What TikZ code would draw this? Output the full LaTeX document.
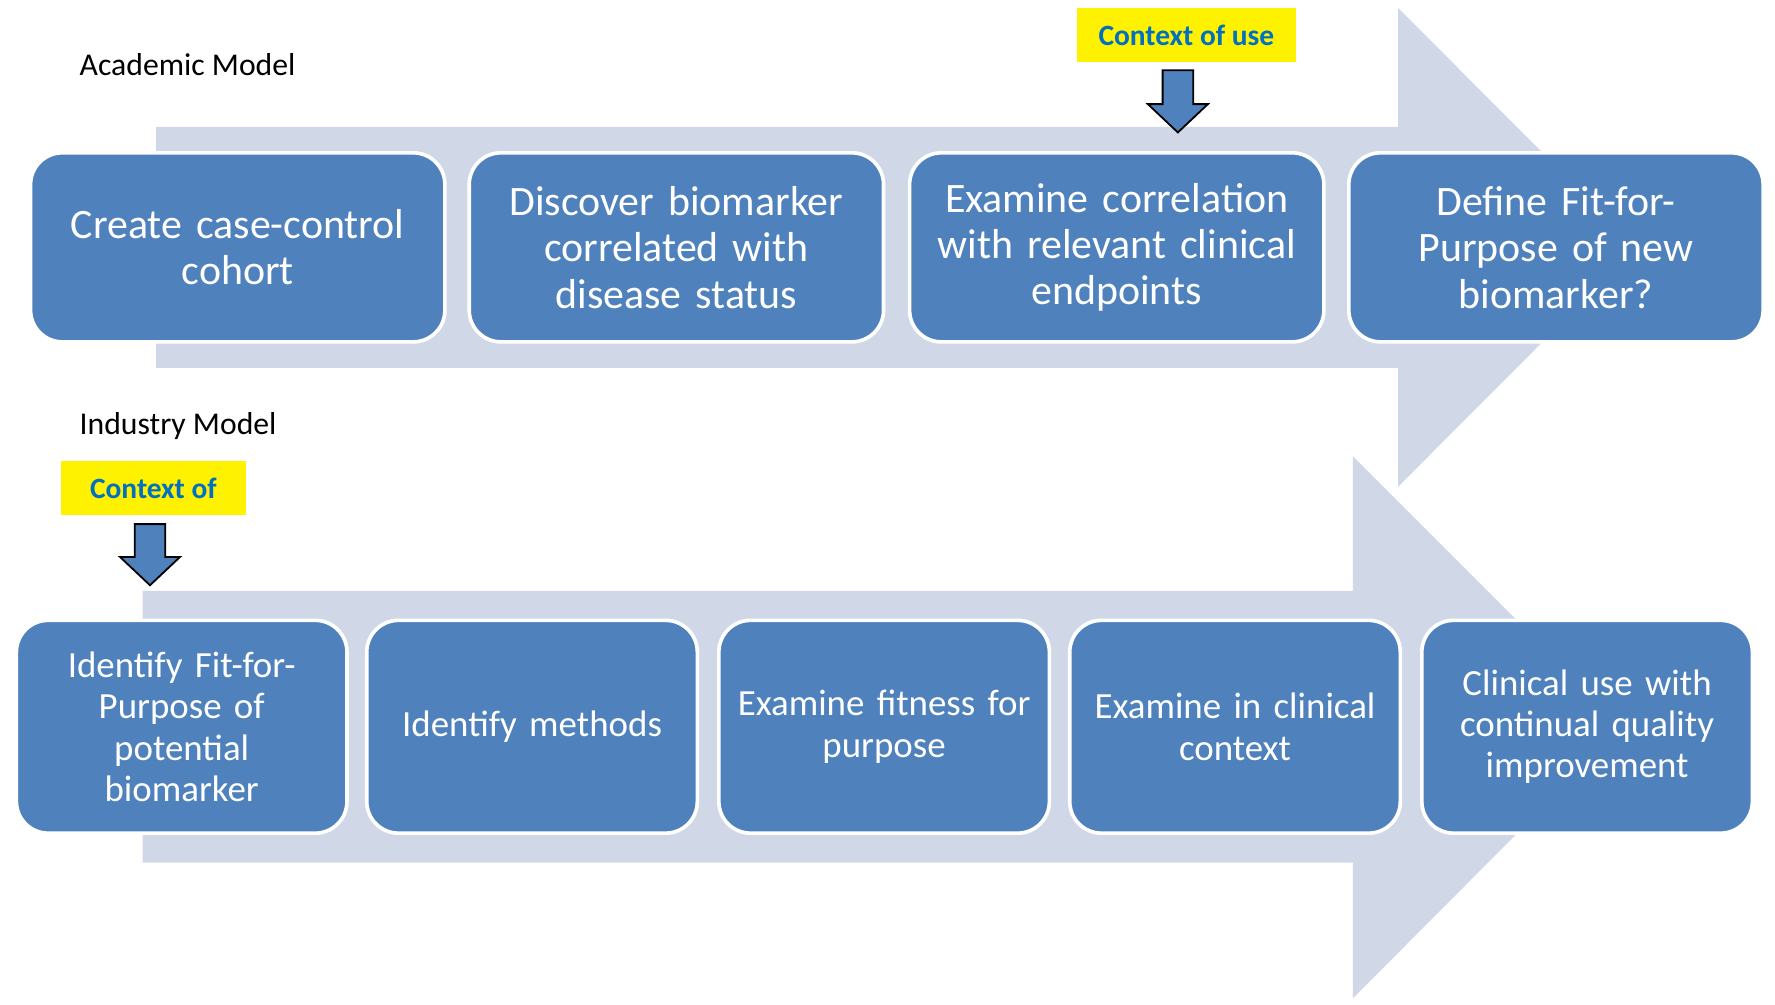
\documentclass[tikz,border=0pt]{standalone}
\usepackage{fontspec}
\setmainfont{Carlito}
\definecolor{boxblue}{HTML}{4F81BD}
\definecolor{arrowgray}{HTML}{D0D8E8}
\definecolor{ctxblue}{HTML}{0070C0}
\begin{document}
\begin{tikzpicture}[x=0.5pt,y=-0.5pt,
  bigarrow/.style={fill=arrowgray, draw=none},
  stepbox/.style={rectangle, rounded corners=14pt, fill=boxblue, draw=white, line width=1.6pt, text=white, align=center, inner sep=2pt},
  upbox/.style={stepbox, minimum width=183pt, minimum height=83.5pt, text width=176pt, font=\fontsize{18.5}{20.5}\selectfont},
  lowbox/.style={stepbox, minimum width=146pt, minimum height=94pt, text width=140pt, font=\fontsize{16.3}{18.2}\selectfont},
  ctx/.style={fill=yellow, text=ctxblue, font=\bfseries\fontsize{13}{15}\selectfont, inner sep=0pt},
  modellabel/.style={font=\fontsize{14}{16}\selectfont, anchor=west, inner sep=0pt},
  blockarrow/.style={fill=boxblue, draw=black, line width=0.8pt, line join=miter}
]
\useasboundingbox (0,0) rectangle (1568,887);
\fill[white] (0,0) rectangle (1568,887);

% big background arrows
\fill[bigarrow] (138,112) -- (1235,112) -- (1235,7) -- (1446,218.5) -- (1235,430) -- (1235,325) -- (138,325) -- cycle;
\fill[bigarrow] (126,522) -- (1195,522) -- (1195,403) -- (1434,642) -- (1195,882) -- (1195,762) -- (126,762) -- cycle;

% labels
\node[modellabel] (acad) at (70,57) {Academic Model};
\node[modellabel] (ind) at (70,376) {Industry Model};

% context boxes
\node[ctx, minimum width=97pt, minimum height=24pt] (ctxu) at (1048,31) {Context of use};
\node[ctx, minimum width=81.5pt, minimum height=24pt] (ctxl) at (135.5,431) {Context of};

% block arrows
\draw[blockarrow] (1027,62) -- (1054,62) -- (1054,92) -- (1067,92) -- (1040.5,117) -- (1014,92) -- (1027,92) -- cycle;
\draw[blockarrow] (119,463) -- (146,463) -- (146,492) -- (159,492) -- (132.5,517) -- (106,492) -- (119,492) -- cycle;

% upper boxes
\node[upbox] (a1) at (210,218.5) {Create case-control\\cohort};
\node[upbox] (a2) at (597.5,218.5) {Discover biomarker\\correlated with\\disease status};
\node[upbox] (a3) at (986.5,218.5) {Examine correlation\\with relevant clinical\\endpoints};
\node[upbox] (a4) at (1374.5,218.5) {Define Fit-for-\\Purpose of new\\biomarker?};

% lower boxes
\node[lowbox] (b1) at (160.5,642) {Identify Fit-for-\\Purpose of\\potential\\biomarker};
\node[lowbox] (b2) at (470,642) {Identify methods};
\node[lowbox] (b3) at (781,642) {Examine fitness for\\purpose};
\node[lowbox] (b4) at (1091,642) {Examine in clinical\\context};
\node[lowbox] (b5) at (1402,642) {Clinical use with\\continual quality\\improvement};
\end{tikzpicture}
\end{document}
